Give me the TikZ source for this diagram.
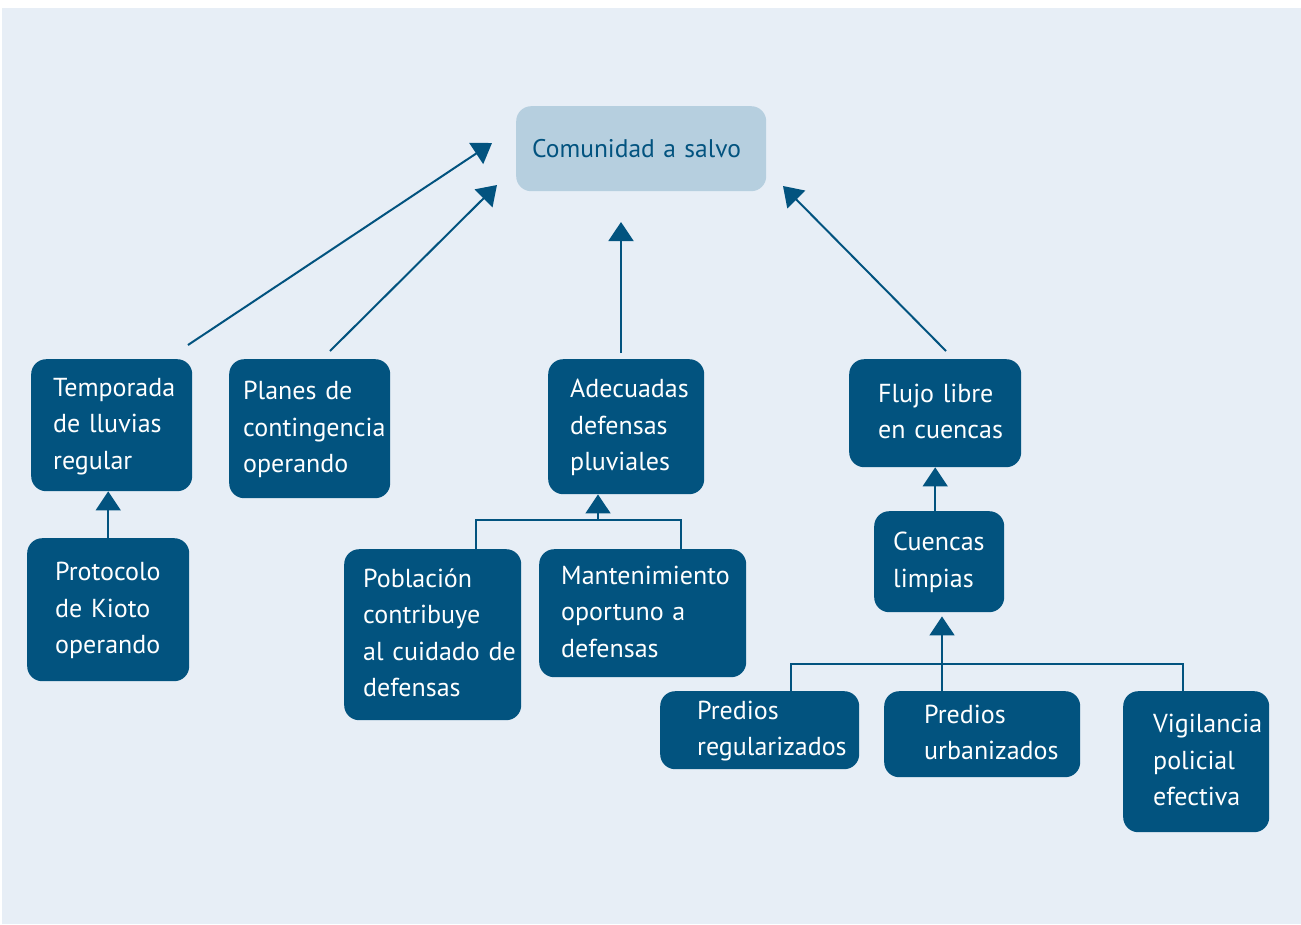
\documentclass[tikz,border=0pt]{standalone}
\usepackage{fontspec}
\setmainfont{PT Sans}
\usetikzlibrary{arrows.meta}
\definecolor{dk}{HTML}{02537F}
\definecolor{bgc}{HTML}{E7EEF6}
\definecolor{lt}{HTML}{B6CFDF}
\tikzset{
  box/.style={draw=none, fill=dk, rounded corners=15pt, text=white, align=left, anchor=north west,
    font=\fontsize{26}{36.5}\selectfont, inner ysep=0pt},
  arr/.style={draw=dk, line width=2pt, -{Triangle[width=25pt,length=19pt]}},
  tree/.style={draw=dk, line width=1.6pt},
}
\newcommand{\bx}[7]{% name, x1, y1, w, h, pad, text
  \node[box, minimum width=#4pt, minimum height=#5pt, text width=#4pt-2*#6pt, inner xsep=#6pt] (#1) at (#2,#3)
  {\begin{tabular}{@{}l@{}}#7\end{tabular}};}
\begin{document}
\begin{tikzpicture}[x=1pt,y=-1pt]
\useasboundingbox (0,0) rectangle (1301,924);
\fill[white] (0,0) rectangle (1301,924);
\fill[bgc] (2,8) rectangle (1301,924);
% top box
\node[fill=lt, rounded corners=15pt, anchor=north west, minimum width=250pt, minimum height=85pt,
  text width=218pt, inner xsep=16pt, align=left, text=dk, font=\fontsize{25.5}{36}\selectfont] (top) at (516,106) {Comunidad a salvo\\[10pt]};
\bx{tem}{31}{359}{161}{132}{22}{Temporada\\de lluvias\\regular}
\bx{pla}{229}{359}{161}{139}{14}{Planes de\\contingencia\\operando}
\bx{ade}{548}{359}{156}{135}{22}{Adecuadas\\defensas\\pluviales}
\bx{flu}{849}{359}{172}{108}{29}{Flujo libre\\en cuencas}
\bx{pro}{27}{538}{162}{143}{28}{Protocolo\\de Kioto\\operando}
\bx{pob}{344}{549}{177}{171}{19}{Población\\contribuye\\al cuidado de\\defensas}
\bx{man}{539}{549}{207}{128}{22}{Mantenimiento\\oportuno a\\defensas}
\bx{cue}{874}{511}{130}{101}{19}{Cuencas\\limpias}
\bx{preg}{660}{691}{199}{78}{37}{Predios\\regularizados}
\bx{purb}{884}{691}{196}{86}{40}{Predios\\urbanizados}
\bx{vig}{1123}{691}{146}{141}{30}{Vigilancia\\policial\\efectiva}
% free ends of top arrows
\coordinate (s1) at (188,345); \coordinate (e1) at (492,143);
\coordinate (s2) at (330,351); \coordinate (e2) at (497,185);
\coordinate (s3) at (621,353); \coordinate (e3) at (621,222);
\coordinate (s4) at (946,351); \coordinate (e4) at (783,186);
\draw[arr] (s1) -- (e1);
\draw[arr] (s2) -- (e2);
\draw[arr] (s3) -- (e3);
\draw[arr] (s4) -- (e4);
% Protocolo -> Temporada
\draw[arr, line width=1.6pt] (pro.north) -- (pro.north |- tem.south);
% Adecuadas tree
\coordinate (j1) at (598,520);
\draw[tree] ([xshift=132pt]pob.north west) |- (j1) -| ([xshift=142pt]man.north west);
\draw[arr, line width=1.6pt] (j1) -- (j1 |- ade.south);
% Cuencas -> Flujo
\draw[arr, line width=1.6pt] (flu.south |- cue.north) -- (flu.south);
% Cuencas tree
\coordinate (j2) at (942,664);
\draw[tree] ([xshift=131pt]preg.north west) |- (j2) -| ([xshift=60pt]vig.north west);
\draw[arr, line width=1.6pt, shorten >=4pt] ([xshift=58pt]purb.north west) -- ([xshift=58pt]purb.north west |- cue.south);
\end{tikzpicture}
\end{document}
